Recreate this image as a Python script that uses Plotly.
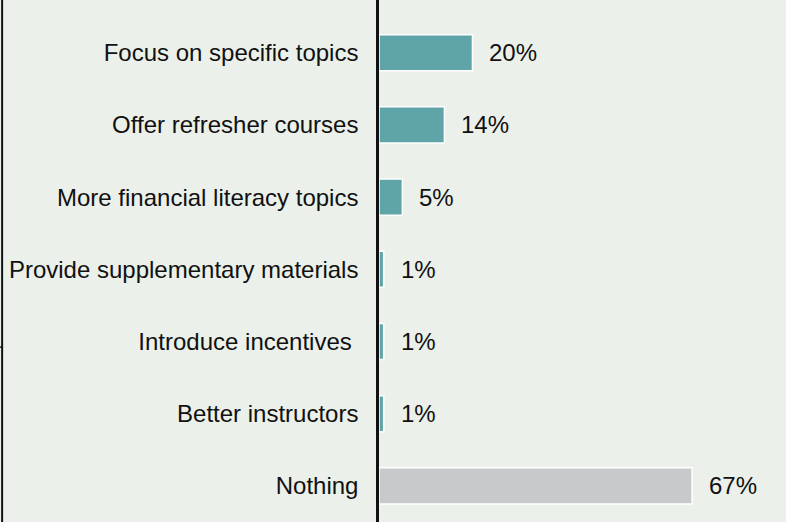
import plotly.graph_objects as go

categories = [
    "Focus on specific topics",
    "Offer refresher courses",
    "More financial literacy topics",
    "Provide supplementary materials",
    "Introduce incentives\u00a0",
    "Better instructors",
    "Nothing",
]
values = [20, 14, 5, 1, 1, 1, 67]
value_labels = ["20%", "14%", "5%", "1%", "1%", "1%", "67%"]

TEAL = "#5FA5A8"
GREY = "#C8C9CB"
BG = "#EBF0EA"
FONT = "Liberation Sans, Arial, sans-serif"

# plot from bottom to top so "Focus on specific topics" sits on top
cats = categories[::-1]
vals = values[::-1]
labels = value_labels[::-1]
colors = [GREY if c == "Nothing" else TEAL for c in cats]

fig = go.Figure()
fig.add_trace(go.Bar(
    x=vals,
    y=cats,
    orientation="h",
    marker=dict(color=colors, line=dict(color="white", width=1.5)),
    width=0.5,
    hoverinfo="skip",
))

for c, v, lab in zip(cats, vals, labels):
    fig.add_annotation(
        x=v, y=c, text=lab, showarrow=False,
        xanchor="left", xshift=15,
        font=dict(family=FONT, size=24, color="#111111"),
    )

# left edge rule of the neighbouring panel, with its tick
fig.add_shape(type="line", xref="paper", yref="paper",
              x0=-0.926, x1=-0.926, y0=0, y1=1,
              line=dict(color="#111111", width=2))
fig.add_shape(type="line", xref="paper", yref="paper",
              x0=-0.931, x1=-0.926, y0=0.335, y1=0.335,
              line=dict(color="#111111", width=1.5))

fig.update_layout(
    width=786, height=522,
    paper_bgcolor=BG, plot_bgcolor=BG,
    margin=dict(l=379, r=0, t=0, b=0),
    showlegend=False,
    font=dict(family=FONT, size=24, color="#111111"),
    xaxis=dict(range=[0, 87.1], visible=False, fixedrange=True),
    yaxis=dict(
        range=[-0.5, 6.73],
        showline=True, linecolor="#111111", linewidth=2.5,
        showgrid=False, zeroline=False, automargin=False,
        ticks="", ticklabelstandoff=13,
        tickfont=dict(size=24),
    ),
)

fig.write_html(
    "out.html",
    config={"displayModeBar": False},
    post_script="document.body.style.margin='0';",
)
